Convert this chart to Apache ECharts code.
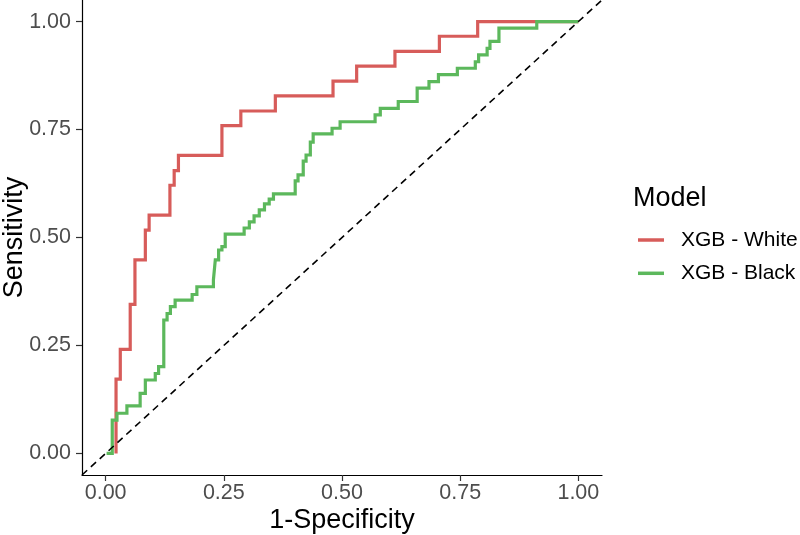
<!DOCTYPE html>
<html>
<head>
<meta charset="utf-8">
<script src="https://cdn.jsdelivr.net/npm/echarts@6/dist/echarts.min.js"></script>
<style>html,body{margin:0;padding:0;background:#fff;}#chart{width:800px;height:535px;}</style>
</head>
<body>
<div id="chart"></div>
<script>
// ---- data ----
const seriesNames = ['XGB - White', 'XGB - Black'];
const tickValues = [0, 0.25, 0.5, 0.75, 1];
const tickLabels = ['0.00', '0.25', '0.50', '0.75', '1.00'];

// XGB - White: step vertices (1-Specificity, Sensitivity)
const fprWhite = [0.022,0.022,0.031,0.052,0.062,0.084,0.092,0.136,0.145,0.154,0.246,0.286,0.359,0.481,0.531,0.612,0.706,0.787,1.0];
const tprWhite = [0,0.172,0.241,0.345,0.448,0.517,0.552,0.621,0.655,0.690,0.759,0.793,0.828,0.862,0.897,0.931,0.966,1.0,1.0];

// XGB - Black
const fprBlack = [0.002,0.014,0.024,0.045,0.073,0.084,0.105,0.112,0.123,0.130,0.137,0.147,0.183,0.193,0.228,0.232,0.239,0.246,0.253,0.293,0.304,0.314,0.325,0.336,0.346,0.355,0.401,0.407,0.418,0.424,0.433,0.439,0.479,0.496,0.570,0.581,0.619,0.659,0.684,0.704,0.744,0.782,0.789,0.807,0.813,0.832,0.912,1.0];
const tprBlack = [0,0.077,0.093,0.110,0.139,0.170,0.185,0.201,0.309,0.324,0.340,0.355,0.368,0.386,0.402,0.448,0.471,0.479,0.508,0.522,0.536,0.550,0.564,0.578,0.589,0.601,0.631,0.645,0.677,0.691,0.721,0.740,0.753,0.768,0.784,0.799,0.815,0.846,0.861,0.877,0.892,0.907,0.923,0.938,0.954,0.985,1.0,1.0];

// reference diagonal endpoints (spans the expanded panel)
const diagX = [-0.05, 1.05];
const diagY = [-0.05, 1.05];

const colors = ['#d75c5a', '#5cb85c'];
const FONT = '"Liberation Sans", Arial, Helvetica, sans-serif';

function zip(a, b) { return a.map((v, i) => [v, b[i]]); }

const axisCommon = {
  type: 'value',
  min: -0.05,
  max: 1.05,
  splitLine: { show: false },
  axisLine: { show: true, onZero: false, lineStyle: { color: '#000', width: 1.2 } },
  axisTick: { show: true, customValues: tickValues, length: 6, lineStyle: { color: '#333', width: 1.2 } },
  axisLabel: {
    customValues: tickValues,
    formatter: v => tickLabels[tickValues.findIndex(t => Math.abs(t - v) < 1e-9)] || '',
    color: '#4d4d4d', fontSize: 21.5, fontFamily: FONT
  },
  nameLocation: 'middle',
  nameMoveOverlap: false,
  nameTextStyle: { color: '#000', fontSize: 27, fontFamily: FONT }
};

const chart = echarts.init(document.getElementById('chart'), null, { renderer: 'canvas' });
chart.setOption({
  animation: false,
  backgroundColor: '#fff',
  title: {
    text: 'Model', left: 633, top: 185, padding: 0,
    textStyle: { fontSize: 27, fontWeight: 'normal', color: '#000', fontFamily: FONT }
  },
  legend: {
    data: seriesNames,
    orient: 'vertical',
    left: 638, top: 229,
    padding: 0,
    icon: 'rect',
    itemWidth: 26, itemHeight: 3.5,
    itemGap: 11.3,
    textStyle: { fontSize: 21, lineHeight: 22, color: '#000', fontFamily: FONT, padding: [0, 0, 0, 12] }
  },
  grid: { left: 82, right: 198, top: 0, bottom: 60, containLabel: false, outerBoundsMode: 'none' },
  xAxis: Object.assign({}, axisCommon, {
    name: '1-Specificity', nameGap: 32,
    axisLabel: Object.assign({}, axisCommon.axisLabel, { margin: 7 })
  }),
  yAxis: Object.assign({}, axisCommon, {
    name: 'Sensitivity', nameGap: 54,
    axisLabel: Object.assign({}, axisCommon.axisLabel, { margin: 11 })
  }),
  series: [
    {
      name: seriesNames[0], type: 'line', step: 'end', showSymbol: false, symbol: 'none',
      data: zip(fprWhite, tprWhite),
      lineStyle: { color: colors[0], width: 3.2, cap: 'butt', join: 'miter' },
      itemStyle: { color: colors[0] }
    },
    {
      name: seriesNames[1], type: 'line', step: 'end', showSymbol: false, symbol: 'none',
      data: zip(fprBlack, tprBlack),
      lineStyle: { color: colors[1], width: 3.2, cap: 'butt', join: 'miter' },
      itemStyle: { color: colors[1] }
    },
    {
      name: 'diagonal', type: 'line', showSymbol: false, symbol: 'none',
      data: zip(diagX, diagY),
      lineStyle: { color: '#000', width: 1.6, type: [7, 5] },
      silent: true
    }
  ]
});
</script>
</body>
</html>
